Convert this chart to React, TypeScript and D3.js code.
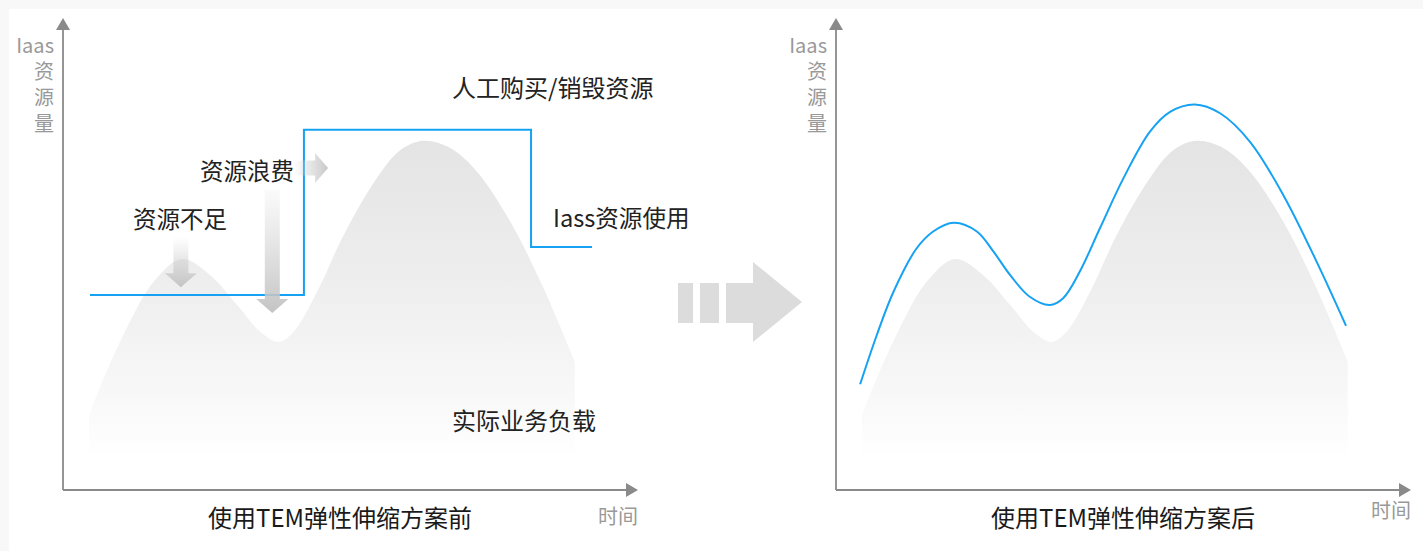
import React from "react";
import * as d3 from "d3";

// ---- data (time units 0..100, resource units 0..100) ----
const loadTime = [4.5, 5.9, 11.1, 15.8, 20.7, 25.6, 30.3, 34.3, 37.5, 40.1, 44.2, 48.8, 54.6, 58.7, 62.7, 67.4, 72, 77.8, 83.6, 89];
const workload = [16, 20.7, 35.2, 45.3, 50.2, 46.7, 40.2, 34.4, 32.2, 34.4, 43.1, 55.4, 67.8, 73.9, 75.9, 74.3, 69.2, 58.3, 43.8, 27.9];
const elasticTime = [4.2, 7.1, 10, 14, 16.9, 20.5, 24.5, 27.4, 30.3, 33.7, 37.2, 39.5, 42.4, 45.9, 50, 54.6, 58.1, 62.4, 66.8, 72, 77.8, 83.6, 88.7];
const elasticResource = [23, 33.7, 43.1, 52.5, 56.2, 58.1, 56.2, 51.8, 46.7, 42, 40.2, 41.7, 47.5, 56.9, 67.8, 77.9, 82.2, 83.8, 81.9, 75.7, 64.1, 49.6, 35.7];
const manualStepTime = [4.7, 41.9, 81.4, 92];
const manualStepLevel = [42.4, 78.3, 52.8, 52.8];

const yAxisLabel = ["Iaas", "资", "源", "量"];
const xAxisLabel = "时间";
const titles = ["使用TEM弹性伸缩方案前", "使用TEM弹性伸缩方案后"];
const annotations = {
  manual: "人工购买/销毁资源",
  waste: "资源浪费",
  shortage: "资源不足",
  usage: "Iass资源使用",
  load: "实际业务负载",
};
// annotation arrows in data units
const shortageArrow = { t: 20.5, from: 55, to: 44.1 };
const wasteDownArrow = { t: 36.4, from: 65.2, to: 38.5 };
const wasteRightArrow = { v: 70, from: 40, to: 46.1 };

const W = 1423;
const H = 551;
const CJK = "'Noto Sans CJK SC', 'Noto Sans', sans-serif";
const AXIS = "#8a8a8a";
const BLUE = "#16a2f2";

const yScale = d3.scaleLinear().domain([0, 100]).range([490, 30]);
const xLeft = d3.scaleLinear().domain([0, 100]).range([63, 638]);
const xRight = d3.scaleLinear().domain([0, 100]).range([836, 1411]);

const loadData = loadTime.map((t, i) => ({ t, v: workload[i] }));
const elasticData = elasticTime.map((t, i) => ({ t, v: elasticResource[i] }));
const stepData = manualStepTime.map((t, i) => ({ t, v: manualStepLevel[i] }));

const smooth = d3.curveCatmullRom.alpha(0.5);

function Axes({ x, titleX, titleY, timeY, gid }: any) {
  const x0 = x(0);
  const x1 = x(100);
  const y0 = yScale(0);
  const yTop = 18;
  return (
    <g>
      <line x1={x0} y1={y0} x2={x0} y2={yTop + 11} stroke={AXIS} strokeWidth={1.8} />
      <path d={`M${x0},${yTop} L${x0 - 7},${yTop + 12} L${x0 + 7},${yTop + 12} Z`} fill={AXIS} />
      <line x1={x0} y1={y0} x2={x1 - 11} y2={y0} stroke={AXIS} strokeWidth={1.8} />
      <path d={`M${x1},${y0} L${x1 - 12},${y0 - 7} L${x1 - 12},${y0 + 7} Z`} fill={AXIS} />
      <text y={53} textAnchor="end" fontSize={20} fill="#999" fontFamily={CJK}>
        {yAxisLabel.map((s, i) => (
          <tspan key={gid + s} x={x0 - 9} dy={i === 0 ? 0 : 26}>
            {s}
          </tspan>
        ))}
      </text>
      <text x={x1} y={timeY} textAnchor="end" fontSize={20} fill="#999" fontFamily={CJK}>
        {xAxisLabel}
      </text>
      <text x={titleX} y={titleY} textAnchor="middle" fontSize={24} fill="#1a1a1a" fontFamily={CJK}>
        {gid === "L" ? titles[0] : titles[1]}
      </text>
    </g>
  );
}

export default function App() {
  const areaL = d3
    .area<any>()
    .x((d) => xLeft(d.t))
    .y0(yScale(0))
    .y1((d) => yScale(d.v))
    .curve(smooth)(loadData) as string;
  const areaR = d3
    .area<any>()
    .x((d) => xRight(d.t))
    .y0(yScale(0))
    .y1((d) => yScale(d.v))
    .curve(smooth)(loadData) as string;
  const elasticLine = d3
    .line<any>()
    .x((d) => xRight(d.t))
    .y((d) => yScale(d.v))
    .curve(smooth)(elasticData) as string;
  const stepLine = d3
    .line<any>()
    .x((d) => xLeft(d.t))
    .y((d) => yScale(d.v))
    .curve(d3.curveStepAfter)(stepData) as string;

  const downArrow = (a: any, gid: string) => {
    const cx = xLeft(a.t);
    const yTop = yScale(a.from);
    const yTip = yScale(a.to);
    const headLen = 14;
    const sw = 7.5;
    const hw = 16;
    const yHead = yTip - headLen;
    return (
      <path
        d={`M${cx - sw},${yTop} L${cx + sw},${yTop} L${cx + sw},${yHead} L${cx + hw},${yHead} L${cx},${yTip} L${cx - hw},${yHead} L${cx - sw},${yHead} Z`}
        fill={`url(#${gid})`}
      />
    );
  };
  const rightArrow = (a: any) => {
    const cy = yScale(a.v);
    const xs = xLeft(a.from);
    const xt = xLeft(a.to);
    const headLen = 13;
    const sw = 7.5;
    const hw = 15;
    const xh = xt - headLen;
    return (
      <path
        d={`M${xs},${cy - sw} L${xh},${cy - sw} L${xh},${cy - hw} L${xt},${cy} L${xh},${cy + hw} L${xh},${cy + sw} L${xs},${cy + sw} Z`}
        fill="url(#gRight)"
      />
    );
  };

  return (
    <svg width={W} height={H} style={{ position: "absolute", left: 0, top: 0, background: "#fff" }}>
      <defs>
        <linearGradient id="gLoad" gradientUnits="userSpaceOnUse" x1={0} y1={yScale(76)} x2={0} y2={yScale(7)}>
          <stop offset="0" stopColor="#e4e4e4" />
          <stop offset="0.45" stopColor="#eeeeee" />
          <stop offset="0.8" stopColor="#f8f8f8" />
          <stop offset="1" stopColor="#ffffff" />
        </linearGradient>
        <linearGradient id="gDown1" x1="0" y1="0" x2="0" y2="1">
          <stop offset="0" stopColor="#d0d0d0" stopOpacity={0} />
          <stop offset="1" stopColor="#c4c4c4" stopOpacity={1} />
        </linearGradient>
        <linearGradient id="gDown2" x1="0" y1="0" x2="0" y2="1">
          <stop offset="0" stopColor="#d0d0d0" stopOpacity={0.1} />
          <stop offset="1" stopColor="#c4c4c4" stopOpacity={1} />
        </linearGradient>
        <linearGradient id="gRight" x1="0" y1="0" x2="1" y2="0">
          <stop offset="0" stopColor="#d0d0d0" stopOpacity={0} />
          <stop offset="1" stopColor="#c8c8c8" stopOpacity={1} />
        </linearGradient>
      </defs>
      <rect x={0} y={0} width={W} height={9} fill="#f8f8f8" />
      <rect x={0} y={0} width={9} height={H} fill="#f8f8f8" />

      {/* left chart */}
      <path d={areaL} fill="url(#gLoad)" />
      <Axes x={xLeft} titleX={340} titleY={527} timeY={524} gid="L" />
      <path d={stepLine} fill="none" stroke={BLUE} strokeWidth={2} />
      {downArrow(shortageArrow, "gDown1")}
      {downArrow(wasteDownArrow, "gDown2")}
      {rightArrow(wasteRightArrow)}
      <text x={452} y={97} fontSize={24} fill="#222" fontFamily={CJK}>{annotations.manual}</text>
      <text x={200} y={180} fontSize={23.5} fill="#222" fontFamily={CJK}>{annotations.waste}</text>
      <text x={133} y={228} fontSize={23.5} fill="#222" fontFamily={CJK}>{annotations.shortage}</text>
      <text x={553} y={227} fontSize={23.6} fill="#222" fontFamily={CJK}>{annotations.usage}</text>
      <text x={452} y={430} fontSize={24} fill="#222" fontFamily={CJK}>{annotations.load}</text>

      {/* middle arrow */}
      <rect x={678} y={283} width={15} height={40} fill="#dcdcdc" />
      <rect x={700} y={283} width={19} height={40} fill="#dcdcdc" />
      <path d="M726,283 L753,283 L753,262 L802,302 L753,342 L753,323 L726,323 Z" fill="#dcdcdc" />

      {/* right chart */}
      <path d={areaR} fill="url(#gLoad)" />
      <Axes x={xRight} titleX={1123} titleY={527} timeY={518} gid="R" />
      <path d={elasticLine} fill="none" stroke={BLUE} strokeWidth={2} />
    </svg>
  );
}
